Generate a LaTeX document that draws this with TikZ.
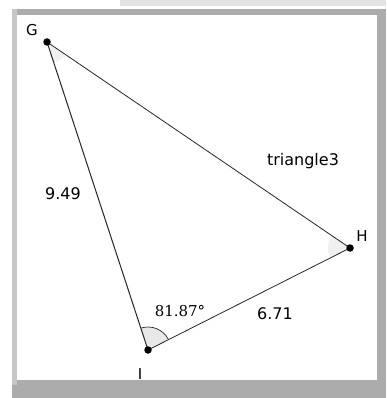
\documentclass[tikz,border=0pt]{standalone}
\usepackage{fontspec}
\setmainfont{DejaVu Sans}
\newfontfamily\anglefont{DejaVu Serif}
\begin{document}
\begin{tikzpicture}[x=1pt,y=-1pt,
  side/.style={draw=black!85,line width=0.8pt},
  vdot/.style={circle,fill=black,inner sep=0pt,minimum size=7.5pt},
  lab/.style={font=\fontsize{16}{16}\selectfont,text=black,inner sep=0pt},
  vlab/.style={font=\fontsize{15}{15}\selectfont,text=black,inner sep=0pt}]
\useasboundingbox (0,0) rectangle (386,398);
% frame
\fill[gray!22] (120,0) rectangle (386,6);
\fill[gray!65] (12,9) rectangle (386,398);
\fill[gray!45] (12,9) rectangle (17,385);
\fill[white] (17,15) rectangle (377,380);
% vertices
\coordinate (G) at (47,42);
\coordinate (H) at (350,248);
\coordinate (I) at (148,350);
% faint angle wedges
\fill[gray!12] (G) -- ++(-71.8:22pt) arc[start angle=-71.8,end angle=-34.2,radius=22pt] -- cycle;
\fill[gray!12] (H) -- ++(145.8:22pt) arc[start angle=145.8,end angle=206.8,radius=22pt] -- cycle;
% angle mark at I
\fill[gray!18] (I) -- ++(26.8:23pt) arc[start angle=26.8,end angle=108.2,radius=23pt] -- cycle;
\draw[black!85,line width=0.7pt] ([shift={(26.8:23pt)}]I) arc[start angle=26.8,end angle=108.2,radius=23pt];
% sides
\draw[side] (G) -- (H);
\draw[side] (H) -- (I);
\draw[side,line width=1pt] (I) -- (G);
\node[vdot] (Gd) at (G) {};
\node[vdot] (Hd) at (H) {};
\node[vdot] (Id) at (I) {};
% labels
\node[vlab] (Gl) at (32,30) {G};
\node[vlab] (Hl) at (362,236) {H};
\node[vlab] (Il) at (140,374) {I};
\node[lab] (t3) at (303,161) {triangle3};
\node[lab] (s1) at (63,194) {9.49};
\node[lab] (s2) at (275,314) {6.71};
\node[lab,font=\anglefont\fontsize{15}{15}\selectfont] (ang) at (180,311) {81.87°};
\end{tikzpicture}
\end{document}
